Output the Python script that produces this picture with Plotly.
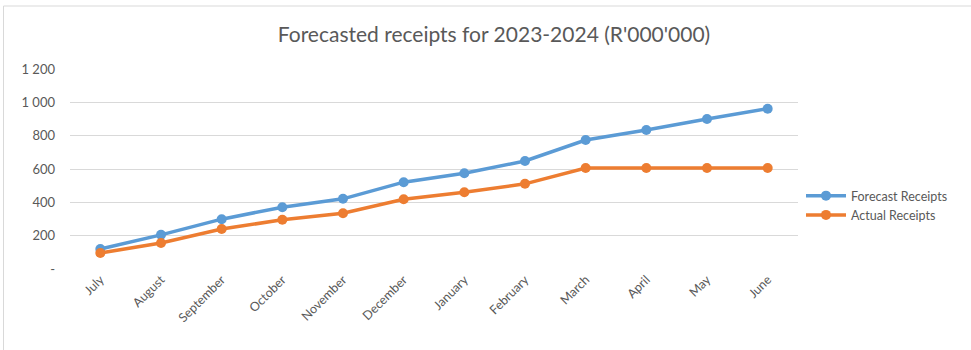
import plotly.graph_objects as go

months = ["July", "August", "September", "October", "November", "December",
          "January", "February", "March", "April", "May", "June"]
forecast = [120, 205, 299, 371, 421, 521, 575, 648, 774, 834, 900, 962]
actual = [96, 156, 240, 295, 335, 419, 461, 511, 606, 606, 606, 606]

y_ticks = [0, 200, 400, 600, 800, 1000, 1200]
y_tick_text = ["-", "200", "400", "600", "800", "1 000", "1 200"]

W, H = 971, 350
L, R, T, B = 70, 173, 69, 81
pw, ph = W - L - R, H - T - B

def px_x(px):
    return (px - L) / pw

def px_y(py):
    return (H - B - py) / ph

fig = go.Figure()
fig.add_trace(go.Scatter(
    x=months, y=forecast, name="Forecast Receipts", mode="lines+markers",
    line=dict(color="#5B9BD5", width=3.5), marker=dict(size=10, color="#5B9BD5"),
))
fig.add_trace(go.Scatter(
    x=months, y=actual, name="Actual Receipts", mode="lines+markers",
    line=dict(color="#ED7D31", width=3.5), marker=dict(size=10, color="#ED7D31"),
))

fig.update_layout(
    width=W, height=H,
    margin=dict(l=L, r=R, t=T, b=B, autoexpand=False),
    paper_bgcolor="white", plot_bgcolor="white",
    font=dict(family="Lato, Noto Sans, sans-serif", color="#595959", size=12),
    title=dict(text="Forecasted receipts for 2023-2024 (R'000'000)",
               x=494 / W, xanchor="center", y=1 - 35 / H, yanchor="middle",
               font=dict(size=21, color="#595959")),
    showlegend=True,
    legend=dict(x=px_x(801), xanchor="left", y=px_y(181), yanchor="top",
                font=dict(size=12.5, color="#595959"), itemwidth=40,
                tracegroupgap=0, bgcolor="rgba(0,0,0,0)"),
    xaxis=dict(range=[-0.5, 11.5], tickangle=-45, showgrid=False,
               showline=False, ticks="", tickfont=dict(size=12.5)),
    yaxis=dict(range=[0, 1200], tickvals=y_ticks, ticktext=y_tick_text,
               showgrid=True, gridcolor="#D9D9D9", gridwidth=1,
               zeroline=False, showline=False, ticks="",
               ticklabelstandoff=14, tickfont=dict(size=13)),
    shapes=[
        dict(type="line", xref="paper", yref="paper",
             x0=px_x(3.5), x1=px_x(975), y0=px_y(6), y1=px_y(6),
             line=dict(color="#D9D9D9", width=1)),
        dict(type="line", xref="paper", yref="paper",
             x0=px_x(3.5), x1=px_x(3.5), y0=px_y(6), y1=px_y(355),
             line=dict(color="#D9D9D9", width=1)),
    ],
)

fig.write_html("out.html")
